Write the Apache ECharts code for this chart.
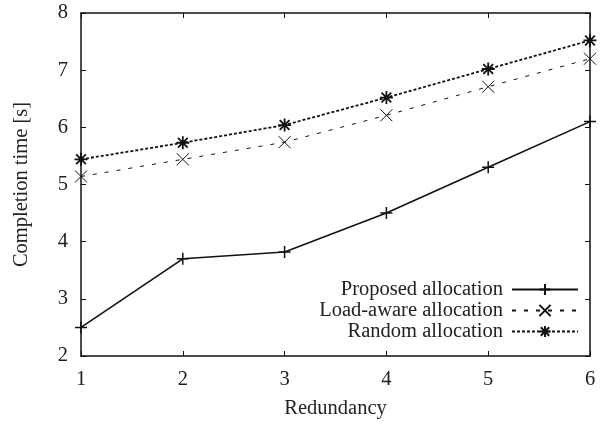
<!DOCTYPE html>
<html>
<head>
<meta charset="utf-8">
<script src="https://cdn.jsdelivr.net/npm/echarts@6/dist/echarts.min.js"></script>
<style>html,body{margin:0;padding:0;background:#fff;}#c{width:611px;height:424px;}</style>
</head>
<body>
<div id="c"></div>
<script>
const redundancy = [1, 2, 3, 4, 5, 6];
const proposed = [2.5, 3.70, 3.82, 4.50, 5.30, 6.10];
const loadAware = [5.14, 5.44, 5.74, 6.21, 6.71, 7.20];
const randomAlloc = [5.44, 5.73, 6.04, 6.52, 7.02, 7.52];
const seriesNames = ['Proposed allocation', 'Load-aware allocation', 'Random allocation'];

const FONT = 'Liberation Serif';
const FS = 20.5;
const TXT = '#222';

const plus = 'path://M0,-1L0,1M-1,0L1,0';
const cross = 'path://M-1,-1L1,1M-1,1L1,-1';
const star = 'path://M0,-1L0,1M-1,0L1,0M-0.75,-0.75L0.75,0.75M-0.75,0.75L0.75,-0.75';

function pairs(arr) { return redundancy.map((x, i) => [x, arr[i]]); }

const chart = echarts.init(document.getElementById('c'), null, {renderer: 'canvas'});
const axisCommon = {
  axisLine: {lineStyle: {color: '#111', width: 1.5}},
  axisTick: {inside: true, length: 5, lineStyle: {color: '#111', width: 1}},
  splitLine: {show: false}
};
chart.setOption({
  animation: false,
  backgroundColor: '#fff',
  grid: {left: 81, right: 21, top: 13, bottom: 66},
  textStyle: {fontFamily: FONT},
  xAxis: [
    Object.assign({type: 'value', min: 1, max: 6, interval: 1, position: 'bottom',
      name: 'Redundancy', nameLocation: 'middle', nameGap: 42,
      nameTextStyle: {fontFamily: FONT, fontSize: FS, color: TXT},
      axisLabel: {fontFamily: FONT, fontSize: FS, color: TXT, margin: 13}}, axisCommon),
    Object.assign({type: 'value', min: 1, max: 6, interval: 1, position: 'top',
      axisLabel: {show: false}}, axisCommon)
  ],
  yAxis: [
    Object.assign({type: 'value', min: 2, max: 8, interval: 1, position: 'left',
      name: 'Completion time [s]', nameLocation: 'middle', nameGap: 49, nameRotate: 90,
      nameTextStyle: {fontFamily: FONT, fontSize: FS, color: TXT},
      axisLabel: {fontFamily: FONT, fontSize: FS, color: TXT, margin: 13}}, axisCommon),
    Object.assign({type: 'value', min: 2, max: 8, interval: 1, position: 'right',
      axisLabel: {show: false}}, axisCommon)
  ],
  legend: {
    orient: 'vertical', right: 27, top: 274, align: 'right',
    itemWidth: 66, itemHeight: 14, itemGap: 0,
    textStyle: {fontFamily: FONT, fontSize: FS, color: TXT, lineHeight: 21, padding: [0, 4, 0, 0]},
    data: seriesNames
  },
  series: [
    {name: seriesNames[0], type: 'line', data: pairs(proposed), symbol: plus, symbolSize: 12,
      lineStyle: {color: '#111', width: 1.6, type: 'solid'},
      itemStyle: {color: '#111', borderColor: '#111', borderWidth: 1.5}},
    {name: seriesNames[1], type: 'line', data: pairs(loadAware), symbol: cross, symbolSize: 12,
      lineStyle: {color: '#111', width: 1, type: [4, 8]},
      itemStyle: {color: '#111', borderColor: '#111', borderWidth: 1}},
    {name: seriesNames[2], type: 'line', data: pairs(randomAlloc), symbol: star, symbolSize: 13,
      lineStyle: {color: '#111', width: 1.8, type: [3, 2]},
      itemStyle: {color: '#111', borderColor: '#111', borderWidth: 1.8}}
  ]
});
</script>
</body>
</html>
